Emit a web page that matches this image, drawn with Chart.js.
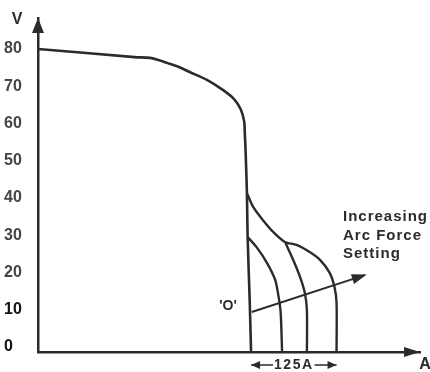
<!DOCTYPE html>
<html>
<head>
<meta charset="utf-8">
<script src="https://cdn.jsdelivr.net/npm/chart.js@4.4.1/dist/chart.umd.min.js"></script>
<style>
    html, body { margin: 0; padding: 0; background: #fff; }
    #caja { width: 430px; height: 372px; position: relative; }
</style>
</head>
<body>
<div id="caja"><canvas id="grafico"></canvas></div>
<script>
// Etiquetas del eje V
const etiquetasV = [0, 10, 20, 30, 40, 50, 60, 70, 80];

// Curva principal (A, V)
const principalA = [0, 140, 162, 177, 191, 206, 220, 245, 268, 284, 294, 299, 300, 301, 303, 304, 307, 309];
const principalV = [80, 77.8, 77.6, 76.9, 76.0, 75.0, 73.8, 71.7, 69.0, 66.6, 63.8, 60.5, 57.0, 52.9, 41.3, 29.5, 12.6, -1.3];

// Curva exterior (mayor arc force)
const exteriorA = [303, 312, 326, 341, 358, 375, 394, 409, 423, 430, 433, 433];
const exteriorV = [41.3, 37.6, 34.1, 30.9, 28.2, 27.4, 25.5, 23.4, 19.9, 16.1, 11.8, -1.3];

// Curva media
const mediaA = [359, 370, 380, 387, 390, 390];
const mediaV = [27.9, 23.4, 18.8, 14.5, 9.9, -1.3];

// Curva interior
const interiorA = [304, 317, 332, 344, 349, 352, 354];
const interiorV = [29.5, 26.8, 22.6, 18.0, 13.4, 9.1, -1.3];

// Flecha "Increasing Arc Force Setting"
const flechaA = [310, 474];
const flechaV = [9.4, 19.3];

const textoFlecha = ["Increasing", "Arc Force", "Setting"];
const rangoA = [309, 433]; // ancho marcado como 125A

const color = "#2b2b2b";

function puntos(xs, ys){
    return xs.map((v, i) => ({x: v, y: ys[i]}));
}

function serie(xs, ys, ancho){
    return {
        data: puntos(xs, ys),
        borderColor: color,
        borderWidth: ancho,
        pointRadius: 0,
        tension: 0.25,
        fill: false
    };
}

// Dibuja flechas y textos sobre el grafico
const extras = {
    id: "extras",
    afterDatasetsDraw(chart){
        const ctx = chart.ctx;
        const ca = chart.chartArea;
        const sx = chart.scales.x, sy = chart.scales.y;
        ctx.save();
        ctx.fillStyle = color;
        ctx.strokeStyle = color;

        // punta eje V
        ctx.beginPath();
        ctx.moveTo(ca.left, ca.top);
        ctx.lineTo(ca.left - 6, ca.top + 15);
        ctx.lineTo(ca.left + 6, ca.top + 15);
        ctx.closePath();
        ctx.fill();

        // punta eje A
        ctx.beginPath();
        ctx.moveTo(ca.right, ca.bottom);
        ctx.lineTo(ca.right - 16, ca.bottom - 5);
        ctx.lineTo(ca.right - 16, ca.bottom + 5);
        ctx.closePath();
        ctx.fill();

        // punta de la flecha de arc force
        const x0 = sx.getPixelForValue(flechaA[0]), y0 = sy.getPixelForValue(flechaV[0]);
        const x1 = sx.getPixelForValue(flechaA[1]), y1 = sy.getPixelForValue(flechaV[1]);
        const ang = Math.atan2(y1 - y0, x1 - x0);
        ctx.save();
        ctx.translate(x1, y1);
        ctx.rotate(ang);
        ctx.beginPath();
        ctx.moveTo(2, 0);
        ctx.lineTo(-13, -5);
        ctx.lineTo(-13, 5);
        ctx.closePath();
        ctx.fill();
        ctx.restore();

        // textos
        ctx.textBaseline = "middle";
        ctx.font = "bold 16px 'Liberation Sans', Arial, sans-serif";
        ctx.textAlign = "center";
        ctx.fillText("V", 17, 20);
        ctx.fillText("A", 425, 365);

        ctx.font = "bold 14px 'Liberation Sans', Arial, sans-serif";
        ctx.fillText("'O'", 228, 306);

        ctx.textAlign = "left";
        ctx.font = "bold 15px 'Liberation Sans', Arial, sans-serif";
        ctx.letterSpacing = "1px";
        textoFlecha.forEach((t, i) => ctx.fillText(t, 343, 217 + i * 18.5));

        // cota 125A
        const xa = sx.getPixelForValue(rangoA[0]), xb = sx.getPixelForValue(rangoA[1]);
        const yc = 365;
        ctx.font = "bold 14px 'Liberation Sans', Arial, sans-serif";
        ctx.letterSpacing = "1.5px";
        const txt = "125A";
        const ancho = ctx.measureText(txt).width;
        const xm = (xa + xb) / 2;
        ctx.textAlign = "center";
        ctx.fillText(txt, xm, yc);
        ctx.lineWidth = 1.5;
        ctx.beginPath();
        ctx.moveTo(xa, yc); ctx.lineTo(xm - ancho / 2 - 1, yc);
        ctx.moveTo(xm + ancho / 2 + 1, yc); ctx.lineTo(xb, yc);
        ctx.stroke();
        [[xa, 1], [xb, -1]].forEach(([px, d]) => {
            ctx.beginPath();
            ctx.moveTo(px, yc);
            ctx.lineTo(px + d * 9, yc - 4);
            ctx.lineTo(px + d * 9, yc + 4);
            ctx.closePath();
            ctx.fill();
        });
        ctx.restore();
    }
};

new Chart("grafico", {
    type: "line",
    data: {
        datasets: [
            serie(principalA, principalV, 2.6),
            serie(exteriorA, exteriorV, 2.4),
            serie(mediaA, mediaV, 2.4),
            serie(interiorA, interiorV, 2.4),
            Object.assign(serie(flechaA, flechaV, 2), {tension: 0})
        ]
    },
    options: {
        responsive: true,
        maintainAspectRatio: false,
        animation: false,
        events: [],
        layout: { padding: { left: 4, top: 18, right: 10, bottom: 20 } },
        plugins: { legend: { display: false }, tooltip: { enabled: false } },
        scales: {
            x: {
                type: "linear",
                min: 0,
                max: 554,
                grid: { display: false },
                ticks: { display: false },
                border: { display: true, color: color, width: 2.5 },
                afterFit: s => { s.height = 0; }
            },
            y: {
                min: -1.34,
                max: 88.3,
                grid: { display: false },
                border: { display: true, color: color, width: 2.5 },
                afterBuildTicks: s => { s.ticks = etiquetasV.map(v => ({value: v})); },
                afterFit: s => { s.width = 34; },
                ticks: {
                    crossAlign: "far",
                    padding: 0,
                    font: { family: "'Liberation Sans', Arial, sans-serif", size: 16, weight: "bold" },
                    color: c => (c.tick && c.tick.value <= 10) ? "#111" : "#444"
                }
            }
        }
    },
    plugins: [extras]
});
</script>
</body>
</html>
